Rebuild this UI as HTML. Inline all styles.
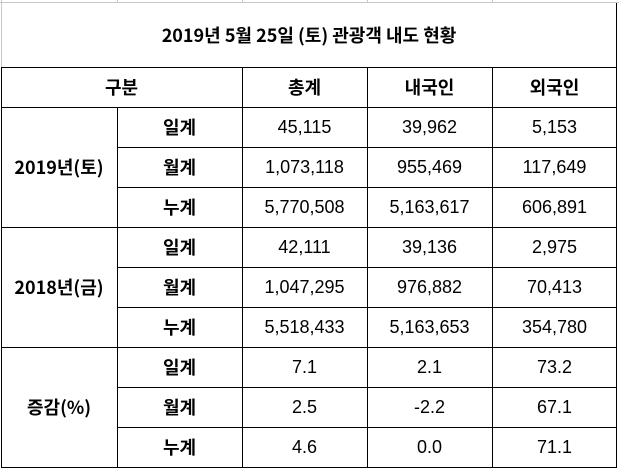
<!DOCTYPE html>
<html><head><meta charset="utf-8"><style>
html,body{margin:0;padding:0;background:#fff;width:619px;height:468px;overflow:hidden}
body{position:relative;font-family:"Liberation Sans","Noto Sans CJK KR",sans-serif;color:#000}
.c{position:absolute;display:flex;align-items:center;justify-content:center;font-size:18px;box-sizing:border-box}
.b{font-weight:bold;font-family:"Noto Sans CJK KR","Liberation Sans",sans-serif}
.h{position:absolute;height:1px;background:#000}
.v{position:absolute;width:1px;background:#000}
.g{position:absolute;background:#c8c8c8}
</style></head><body>
<div class="g" style="left:0;top:2px;width:619px;height:1px"></div>
<div class="g" style="left:1px;top:0;width:1px;height:468px"></div>
<div class="g" style="left:117px;top:0;width:1px;height:3px"></div>
<div class="g" style="left:242px;top:0;width:1px;height:3px"></div>
<div class="g" style="left:367px;top:0;width:1px;height:3px"></div>
<div class="g" style="left:492px;top:0;width:1px;height:3px"></div>
<div class="v" style="left:616px;top:3px;height:465px"></div>
<div class="c b" style="left:1px;top:3px;width:616px;height:64px;font-size:18px;font-weight:700;font-family:'Noto Sans CJK KR',sans-serif">2019년 5월 25일 (토) 관광객 내도 현황</div>
<div id="grid"></div>
<script>
const cols=[1,117,242,367,492,617];
const rowTops=[67,107,147,187,227,267,307,347,387,427,467];
const headers=['총계','내국인','외국인'];
const groups=['2019년(토)','2018년(금)','증감(%)'];
const subs=['일계','월계','누계'];
const totals=['45,115','1,073,118','5,770,508','42,111','1,047,295','5,518,433','7.1','2.5','4.6'];
const domestic=['39,962','955,469','5,163,617','39,136','976,882','5,163,653','2.1','-2.2','0.0'];
const foreign=['5,153','117,649','606,891','2,975','70,413','354,780','73.2','67.1','71.1'];
const body=document.body;
function cell(x,y,w,h,t,bold,name){const d=document.createElement('div');d.className='c'+(bold?' b':'');d.style.left=x+'px';d.style.top=y+'px';d.style.width=w+'px';d.style.height=h+'px';d.textContent=t;


body.appendChild(d);}
function line(cls,x,y,len){const d=document.createElement('div');d.className=cls;d.style.left=x+'px';d.style.top=y+'px';if(cls==='h')d.style.width=len+'px';else d.style.height=len+'px';


body.appendChild(d);}
cell(cols[0],rowTops[0],cols[2]-cols[0],40,'구분',true,'header-category');
headers.forEach((h,i)=>cell(cols[i+2],rowTops[0],125,40,h,true,'header-'+i));
groups.forEach((g,gi)=>{cell(cols[0],rowTops[1+gi*3],116,120,g,true,'group-label');
subs.forEach((s,si)=>{const r=gi*3+si,y=rowTops[1+r];
cell(cols[1],y,125,40,s,true,'sub-label');
cell(cols[2],y,125,40,totals[r],false,'total-value');
cell(cols[3],y,125,40,domestic[r],false,'domestic-value');
cell(cols[4],y,125,40,foreign[r],false,'foreign-value');});});
line('h',1,67,616);line('h',1,107,616);
rowTops.slice(2).forEach((y,i)=>{const full=(i%3===2);line('h',full?1:cols[1],y,full?616:616-cols[1]);});
line('h',1,467,616);
line('v',cols[1],107,361);
[2,3,4].forEach(i=>line('v',cols[i],67,401));
line('v',1,67,401);
</script>
</body></html>
